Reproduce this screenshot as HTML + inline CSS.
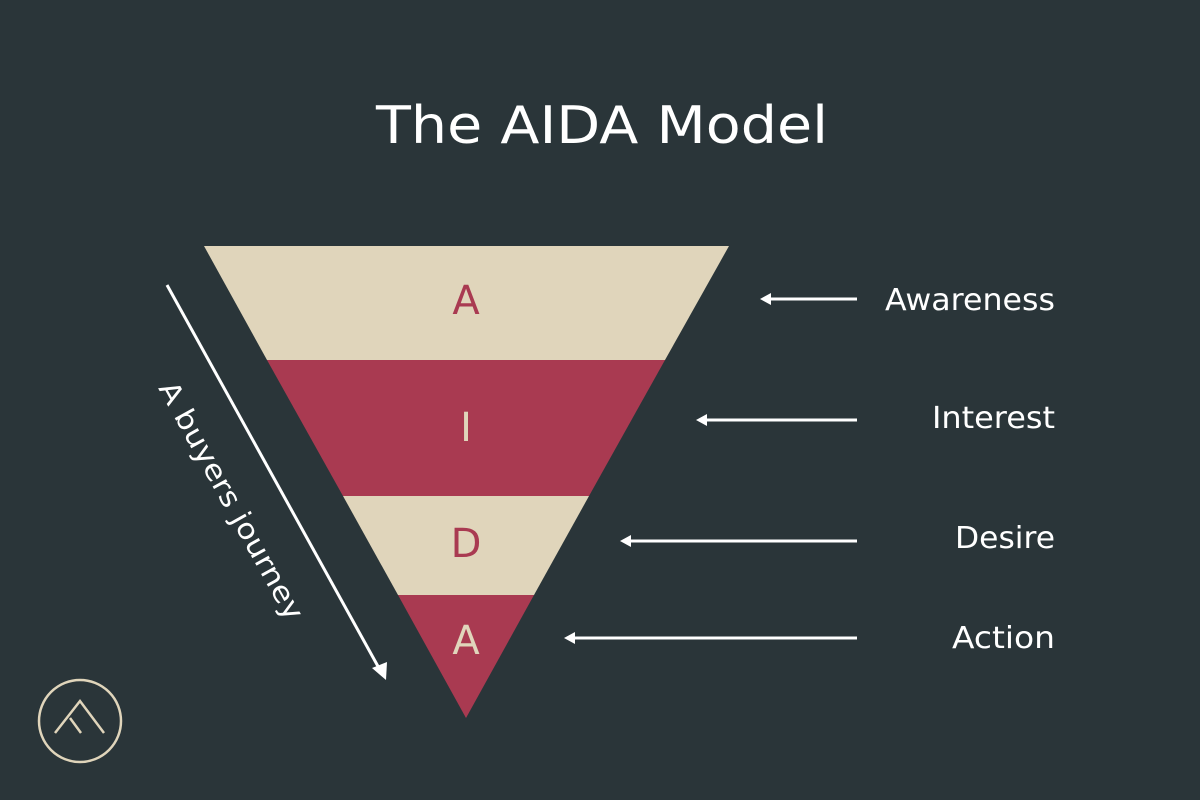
<!DOCTYPE html>
<html><head><meta charset="utf-8"><style>
html,body{margin:0;padding:0;background:#2a3539;}
svg{display:block}
text{font-family:"DejaVu Sans","Liberation Sans",sans-serif;}
</style></head><body>
<svg width="1200" height="800" viewBox="0 0 1200 800">
<rect width="1200" height="800" fill="#2a3539"/>
<text x="376" y="143" font-size="52" fill="#ffffff" textLength="452" lengthAdjust="spacingAndGlyphs">The AIDA Model</text>
<polygon points="204,246 729,246 665,360 267,360" fill="#e0d5bb"/>
<polygon points="267,360 665,360 589,496 343,496" fill="#a93a51"/>
<polygon points="343,496 589,496 534,595 398,595" fill="#e0d5bb"/>
<polygon points="398,595 534,595 466,718" fill="#a93a51"/>
<g font-size="40" text-anchor="middle">
<text x="466" y="314" fill="#a93a51">A</text>
<text x="466" y="441" fill="#e0d5bb">I</text>
<text x="466" y="557" fill="#a93a51">D</text>
<text x="466" y="654" fill="#e0d5bb">A</text>
</g>
<g stroke="#fff" stroke-width="3">
<line x1="857" y1="299" x2="770" y2="299"/>
<line x1="857" y1="420" x2="706" y2="420"/>
<line x1="857" y1="541" x2="630" y2="541"/>
<line x1="857" y1="638" x2="574" y2="638"/>
<line x1="167" y1="285" x2="380" y2="670"/>
</g>
<g fill="#fff">
<polygon points="760,299 771,293 771,305"/>
<polygon points="696,420 707,414 707,426"/>
<polygon points="620,541 631,535 631,547"/>
<polygon points="564,638 575,632 575,644"/>
<polygon points="386,680 372,668 387,662"/>
</g>
<g font-size="30" fill="#fff" lengthAdjust="spacingAndGlyphs">
<text x="885" y="310" textLength="170" lengthAdjust="spacingAndGlyphs">Awareness</text>
<text x="932" y="428" textLength="123" lengthAdjust="spacingAndGlyphs">Interest</text>
<text x="955" y="548" textLength="100" lengthAdjust="spacingAndGlyphs">Desire</text>
<text x="952" y="648" textLength="103" lengthAdjust="spacingAndGlyphs">Action</text>
</g>
<text transform="translate(158,388) rotate(61)" font-size="28" fill="#fff" textLength="268" lengthAdjust="spacingAndGlyphs">A buyers journey</text>
<g fill="none" stroke="#e0d5bb" stroke-width="2.5">
<circle cx="80" cy="721" r="41"/>
<polyline points="55,733 80,701 104,733"/>
<line x1="70" y1="718" x2="81" y2="733"/>
</g>
</svg>
</body></html>
